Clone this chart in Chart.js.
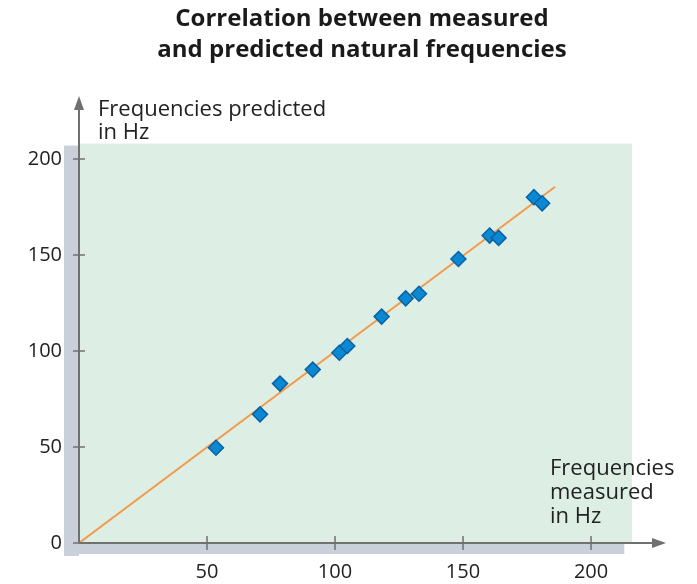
<!DOCTYPE html>
<html>
<head>
<meta charset="utf-8">
<script src="https://cdn.jsdelivr.net/npm/chart.js@4/dist/chart.umd.min.js"></script>
<style>
  html, body { margin: 0; padding: 0; background: #fff; }
  #wrap { width: 697px; height: 584px; position: relative; }
</style>
</head>
<body>
<div id="wrap"><canvas id="freqChart" width="697" height="584"></canvas></div>
<script>
// measured vs predicted natural frequencies (Hz)
const measured  = [53.5, 70.7, 78.5, 91.3, 101.7, 104.8, 118.2, 127.6, 132.8, 148.2, 160.4, 163.9, 177.7, 180.9];
const predicted = [49.6, 67.0, 83.0, 90.3, 99.1, 102.6, 117.9, 127.4, 129.8, 147.9, 160.1, 158.9, 180.1, 176.9];
const fitLineX = [0, 186];
const fitLineY = [0, 185.5];
const xTicks = [50, 100, 150, 200];
const yTicks = [0, 50, 100, 150, 200];

const titleLines = ['Correlation between measured', 'and predicted natural frequencies'];
const yLabelLines = ['Frequencies predicted', 'in Hz'];
const xLabelLines = ['Frequencies', 'measured', 'in Hz'];

const FONT = "'Open Sans', 'Noto Sans', sans-serif";
const AXIS = '#707070';

const backdrop = {
    id: 'backdrop',
    beforeDraw(chart) {
        const { ctx, chartArea: a, scales } = chart;
        const x0 = scales.x.getPixelForValue(0);
        const y0 = scales.y.getPixelForValue(0);
        ctx.save();
        // title
        ctx.fillStyle = '#1a1a1a';
        ctx.font = 'bold 24px ' + FONT;
        ctx.textAlign = 'center';
        ctx.textBaseline = 'middle';
        titleLines.forEach((t, i) => ctx.fillText(t, 362, 19 + i * 31));

        // grey shadow strips
        ctx.fillStyle = '#c9d0da';
        ctx.fillRect(x0 - 15, a.top + 2, 15, y0 - a.top + 11);
        ctx.fillRect(x0 - 15, y0, scales.x.getPixelForValue(213) - x0 + 15, 11);

        // y axis label (partly hidden by the plot panel, as in the print)
        ctx.fillStyle = '#222';
        ctx.font = '22px ' + FONT;
        ctx.textAlign = 'left';
        ctx.textBaseline = 'alphabetic';
        yLabelLines.forEach((t, i) => ctx.fillText(t, 98, 116 + i * 23));

        // green plot panel
        ctx.fillStyle = '#ddeee4';
        ctx.fillRect(x0, a.top, a.right - x0, y0 - a.top);
        ctx.restore();
    },
    afterDraw(chart) {
        const { ctx, scales } = chart;
        const x0 = scales.x.getPixelForValue(0);
        const y0 = scales.y.getPixelForValue(0);
        ctx.save();
        ctx.strokeStyle = AXIS;
        ctx.fillStyle = AXIS;
        ctx.lineWidth = 2;
        // axes
        ctx.beginPath();
        ctx.moveTo(x0, y0); ctx.lineTo(x0, 104);
        ctx.moveTo(x0, y0); ctx.lineTo(656, y0);
        ctx.stroke();
        // arrowheads
        ctx.beginPath();
        ctx.moveTo(x0, 96); ctx.lineTo(x0 - 5, 110); ctx.lineTo(x0 + 5, 110); ctx.closePath();
        ctx.fill();
        ctx.beginPath();
        ctx.moveTo(666, y0); ctx.lineTo(652, y0 - 5); ctx.lineTo(652, y0 + 5); ctx.closePath();
        ctx.fill();
        // tick marks
        ctx.lineWidth = 1.5;
        ctx.beginPath();
        yTicks.forEach(v => {
            const p = scales.y.getPixelForValue(v);
            ctx.moveTo(x0 - 6, p); ctx.lineTo(x0 + 6, p);
        });
        xTicks.forEach(v => {
            const p = scales.x.getPixelForValue(v);
            ctx.moveTo(p, y0 - 7); ctx.lineTo(p, y0 + 7);
        });
        ctx.stroke();
        // x axis label
        ctx.fillStyle = '#222';
        ctx.font = '22px ' + FONT;
        ctx.textAlign = 'left';
        ctx.textBaseline = 'middle';
        xLabelLines.forEach((t, i) => ctx.fillText(t, 550, 469 + i * 24));
        ctx.restore();
    }
};

new Chart(document.getElementById('freqChart'), {
    type: 'scatter',
    data: {
        datasets: [
            {
                type: 'line',
                data: fitLineX.map((x, i) => ({ x, y: fitLineY[i] })),
                borderColor: '#f39a4c',
                borderWidth: 2,
                pointRadius: 0,
                order: 2
            },
            {
                data: measured.map((x, i) => ({ x, y: predicted[i] })),
                pointStyle: 'rectRot',
                pointRadius: 7.5,
                backgroundColor: '#0b88d2',
                borderColor: '#0962a6',
                borderWidth: 1.5,
                order: 1
            }
        ]
    },
    options: {
        responsive: false,
        animation: false,
        layout: { padding: { top: 143.6, right: 65, left: 0, bottom: 0 } },
        plugins: { legend: { display: false }, tooltip: { enabled: false } },
        scales: {
            x: {
                type: 'linear',
                min: 0, max: 216,
                grid: { display: false, drawTicks: false },
                border: { display: false },
                afterFit: s => { s.height = 41; },
                afterBuildTicks: s => { s.ticks = xTicks.map(v => ({ value: v })); },
                ticks: { color: '#222', font: { family: FONT, size: 20 }, padding: 17 }
            },
            y: {
                type: 'linear',
                min: 0, max: 208,
                grid: { display: false, drawTicks: false },
                border: { display: false },
                afterFit: s => { s.width = 79; },
                afterBuildTicks: s => { s.ticks = yTicks.map(v => ({ value: v })); },
                ticks: { color: '#222', font: { family: FONT, size: 20 }, padding: 17 }
            }
        }
    },
    plugins: [backdrop]
});
</script>
</body>
</html>
